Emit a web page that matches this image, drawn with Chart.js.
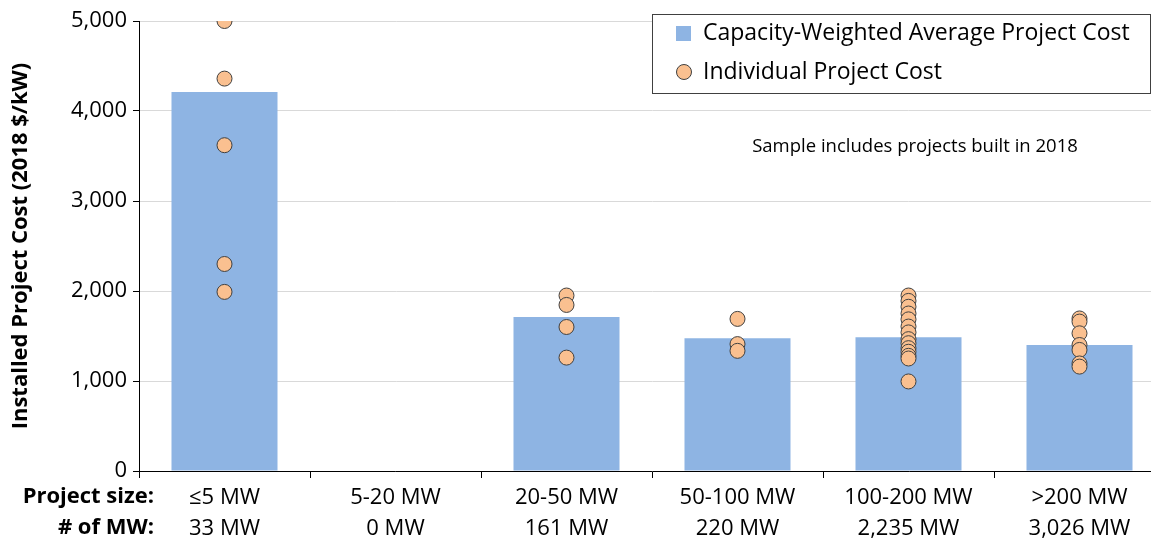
<!DOCTYPE html>
<html>
<head>
<meta charset="utf-8">
<script src="https://cdn.jsdelivr.net/npm/chart.js@4.4.1/dist/chart.umd.min.js"></script>
<style>
  html, body { margin: 0; padding: 0; background: #fff; overflow: hidden; }
  #wrap { width: 1180px; height: 540px; }
</style>
</head>
<body>
<div id="wrap"><canvas id="costChart" width="1180" height="540"></canvas></div>
<script>
// categories and labels
const sizes = ['≤5 MW', '5-20 MW', '20-50 MW', '50-100 MW', '100-200 MW', '>200 MW']
const mwTotals = ['33 MW', '0 MW', '161 MW', '220 MW', '2,235 MW', '3,026 MW']

// capacity-weighted average cost ($/kW)
const avgCost = [4210, null, 1710, 1475, 1485, 1400]

// individual project costs per category
const projCost = {
    '≤5 MW': [5000, 4360, 3620, 2300, 1990],
    '5-20 MW': [],
    '20-50 MW': [1950, 1845, 1600, 1260],
    '50-100 MW': [1690, 1410, 1335],
    '100-200 MW': [1950, 1890, 1825, 1750, 1685, 1605, 1540, 1465, 1420, 1365, 1325, 1280, 1250, 995],
    '>200 MW': [1695, 1660, 1530, 1400, 1345, 1195, 1160]
}

var points = []
sizes.forEach((s) => {
    projCost[s].forEach((v) => points.push({ x: s, y: v }))
})

const FONT = '"Open Sans", sans-serif'
const barColor = '#8EB4E3'
const dotColor = '#FAC090'

const extras = {
    id: 'extras',
    afterDraw(chart) {
        const c = chart.ctx
        const area = chart.chartArea
        c.save()
        // row headers under the axis
        c.fillStyle = '#000'
        c.font = 'bold 22px ' + FONT
        c.textAlign = 'right'
        c.textBaseline = 'middle'
        c.fillText('Project size:', 154, area.bottom + 26)
        c.fillText('# of MW:', 154, area.bottom + 57)

        // note
        c.font = '18.5px ' + FONT
        c.textAlign = 'center'
        c.fillText('Sample includes projects built in 2018', 915, 147)

        // legend box
        c.fillStyle = '#fff'
        c.fillRect(652, 14, 498, 79)
        c.strokeStyle = '#404040'
        c.lineWidth = 1
        c.strokeRect(652.5, 14.5, 498, 79)
        c.fillStyle = barColor
        c.fillRect(676, 26, 15, 15)
        c.beginPath()
        c.arc(684, 72, 7.5, 0, Math.PI * 2)
        c.fillStyle = dotColor
        c.fill()
        c.strokeStyle = '#404040'
        c.stroke()
        c.fillStyle = '#000'
        c.font = '23px ' + FONT
        c.textAlign = 'left'
        c.fillText('Capacity-Weighted Average Project Cost', 703, 33)
        c.fillText('Individual Project Cost', 703, 72)
        c.restore()
    }
}

const ctx0 = document.getElementById('costChart')
var cost_chart = new Chart(ctx0, {
    type: 'bar',
    data: {
        labels: sizes,
        datasets: [
            {
                type: 'scatter',
                label: 'Individual Project Cost',
                data: points,
                backgroundColor: dotColor,
                borderColor: '#404040',
                borderWidth: 1,
                pointRadius: 7.5,
                order: 0
            },
            {
                label: 'Capacity-Weighted Average Project Cost',
                data: avgCost,
                backgroundColor: barColor,
                categoryPercentage: 1,
                barPercentage: 0.62,
                order: 1
            }
        ]
    },
    options: {
        responsive: false,
        animation: false,
        layout: { padding: { left: 0, top: 21, right: 15, bottom: 0 } },
        plugins: {
            legend: { display: false },
            tooltip: { enabled: false }
        },
        scales: {
            x: {
                type: 'category',
                offset: true,
                grid: {
                    offset: true,
                    drawOnChartArea: false,
                    drawTicks: true,
                    tickLength: 7,
                    tickColor: '#000'
                },
                border: { color: '#000', width: 1 },
                ticks: {
                    color: '#000',
                    font: { family: FONT, size: 22, lineHeight: 1.41 },
                    padding: 4,
                    maxRotation: 0,
                    autoSkip: false,
                    callback: function (v, i) {
                        return [sizes[i], mwTotals[i]]
                    }
                },
                afterFit: function (s) { s.height = 69 }
            },
            y: {
                min: 0,
                max: 5000,
                grid: {
                    color: '#d9d9d9',
                    tickColor: '#000',
                    tickLength: 6
                },
                border: { color: '#000', width: 1 },
                ticks: {
                    stepSize: 1000,
                    color: '#000',
                    padding: 6,
                    font: { family: FONT, size: 22 }
                },
                title: {
                    display: true,
                    text: 'Installed Project Cost (2018 $/kW)',
                    color: '#000',
                    font: { family: FONT, size: 22, weight: 'bold' },
                    padding: { top: 8, bottom: 2 }
                },
                afterFit: function (s) { s.width = 139 }
            }
        }
    },
    plugins: [extras]
})
</script>
</body>
</html>
